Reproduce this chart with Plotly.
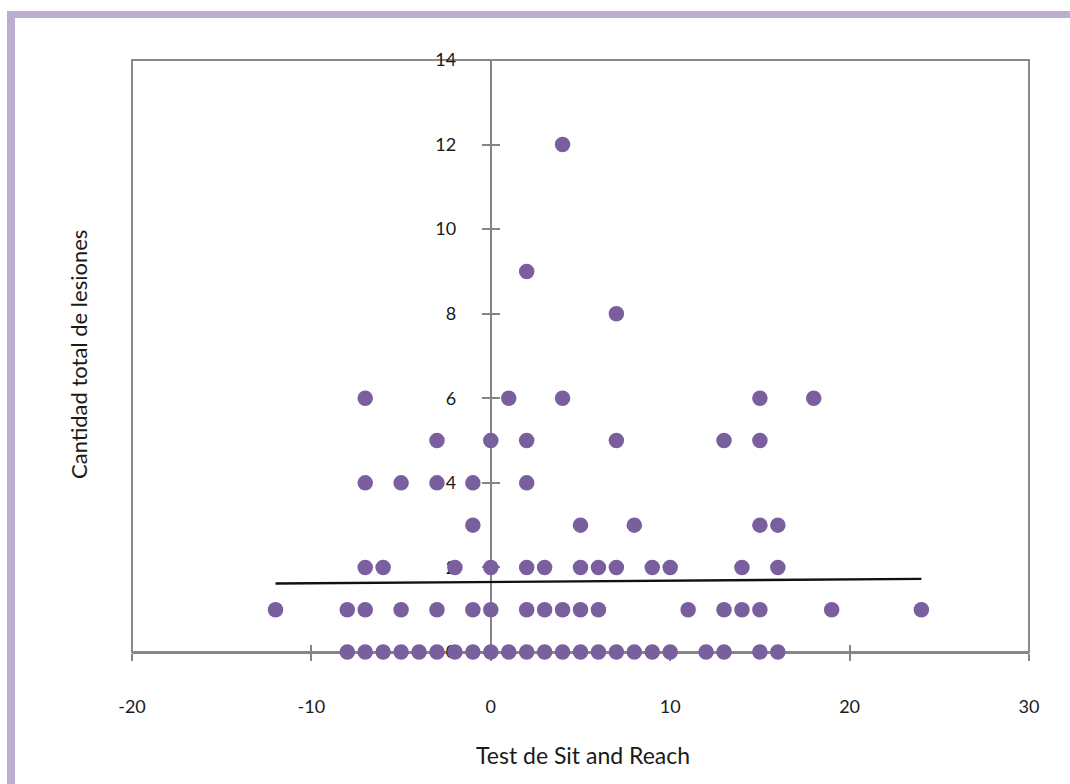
import plotly.graph_objects as go

# Data: Sit-and-Reach score per injury count
sr_0 = [-8, -7, -6, -5, -4, -3, -2, -1, 0, 1, 2, 3, 4, 5, 6, 7, 8, 9, 10, 12, 13, 15, 16]
sr_1 = [-12, -8, -7, -5, -3, -1, 0, 2, 3, 4, 5, 6, 11, 13, 14, 15, 19, 24]
sr_2 = [-7, -6, -2, 0, 2, 3, 5, 6, 7, 9, 10, 14, 16]
sr_3 = [-1, 5, 8, 15, 16]
sr_4 = [-7, -5, -3, -1, 2]
sr_5 = [-3, 0, 2, 7, 13, 15]
sr_6 = [-7, 1, 4, 15, 18]
sr_8 = [7]
sr_9 = [2]
sr_12 = [4]

rows = [(0, sr_0), (1, sr_1), (2, sr_2), (3, sr_3), (4, sr_4), (5, sr_5),
        (6, sr_6), (8, sr_8), (9, sr_9), (12, sr_12)]
sit_reach = [x for _, xs in rows for x in xs]
lesiones = [y for y, xs in rows for _ in xs]

# Linear trend line endpoints
trend_x = [-12, 24]
trend_y = [1.62, 1.73]

x_ticks = [-20, -10, 0, 10, 20, 30]
x_labels = ["-20", "-10", "0", "10", "20", "30"]
y_ticks = [0, 2, 4, 6, 8, 10, 12, 14]

AXIS = "#858585"
PURPLE = "#7A5F9E"
FONT = "Lato, 'Open Sans', sans-serif"
TXT = "#1a1a1a"

fig = go.Figure()
fig.add_trace(go.Scatter(x=trend_x, y=trend_y, mode="lines",
                         line=dict(color="#111111", width=2.3),
                         showlegend=False, hoverinfo="skip"))
fig.add_trace(go.Scatter(x=sit_reach, y=lesiones, mode="markers",
                         marker=dict(color=PURPLE, size=15.5, line=dict(width=0)),
                         cliponaxis=False, showlegend=False))
# helper traces so the overlay axes (cross tick halves) get drawn
fig.add_trace(go.Scatter(x=[None], y=[None], xaxis="x2", yaxis="y", showlegend=False))
fig.add_trace(go.Scatter(x=[None], y=[None], xaxis="x", yaxis="y2", showlegend=False))

W, H = 1070, 784
L, R, T, B = 132, 1029, 60, 652
pw, ph = R - L, B - T

def px(x):
    return (x - L) / pw

def py(y):
    return (B - y) / ph

fig.update_layout(
    width=W, height=H,
    margin=dict(l=L, r=W - R, t=T, b=H - B, pad=0),
    paper_bgcolor="white", plot_bgcolor="white",
    font=dict(family=FONT, color=TXT),
    xaxis=dict(range=[-20, 30], tickvals=x_ticks, ticktext=x_labels,
               showgrid=False, zeroline=False,
               showline=True, linecolor=AXIS, linewidth=2,
               ticks="outside", ticklen=7, tickwidth=1.5, tickcolor=AXIS,
               ticklabelstandoff=30, tickfont=dict(size=18, family=FONT, color=TXT),
               layer="below traces"),
    xaxis2=dict(range=[-20, 30], overlaying="x", anchor="y", side="bottom",
                tickvals=x_ticks, showgrid=False, zeroline=False, showline=False,
                ticks="inside", ticklen=7, tickwidth=1.5, tickcolor=AXIS,
                showticklabels=False, layer="below traces"),
    yaxis=dict(range=[0, 14], tickvals=y_ticks, showgrid=False, zeroline=False,
               anchor="free", position=0.4,
               showline=True, linecolor=AXIS, linewidth=2,
               ticks="outside", ticklen=8, tickwidth=1.5, tickcolor=AXIS,
               ticklabelstandoff=22, tickfont=dict(size=18, family=FONT, color=TXT),
               layer="below traces"),
    yaxis2=dict(range=[0, 14], overlaying="y", anchor="free", position=0.4, side="left",
                tickvals=y_ticks, showgrid=False, zeroline=False, showline=False,
                ticks="inside", ticklen=8, tickwidth=1.5, tickcolor=AXIS,
                showticklabels=False, layer="below traces"),
    shapes=[
        dict(type="rect", xref="paper", yref="paper", x0=0, x1=1, y0=0, y1=1,
             line=dict(color="#8a8a8a", width=2), layer="below"),
        # lavender frame: top band and left band
        dict(type="rect", xref="paper", yref="paper", x0=px(7), x1=px(1070),
             y0=py(18), y1=py(11), fillcolor="#BBAED0", line=dict(width=0), layer="below"),
        dict(type="rect", xref="paper", yref="paper", x0=px(7), x1=px(15),
             y0=py(784), y1=py(11), fillcolor="#BBAED0", line=dict(width=0), layer="below"),
    ],
    annotations=[
        dict(text="Test de Sit and Reach", xref="paper", yref="paper",
             x=px(583), y=py(755), showarrow=False, xanchor="center", yanchor="middle",
             font=dict(size=23, family=FONT, color=TXT)),
        dict(text="Cantidad total de lesiones", xref="paper", yref="paper",
             x=px(78), y=py(355), showarrow=False, textangle=-90,
             xanchor="center", yanchor="middle",
             font=dict(size=22, family=FONT, color=TXT)),
    ],
)

fig.write_html("out.html")
